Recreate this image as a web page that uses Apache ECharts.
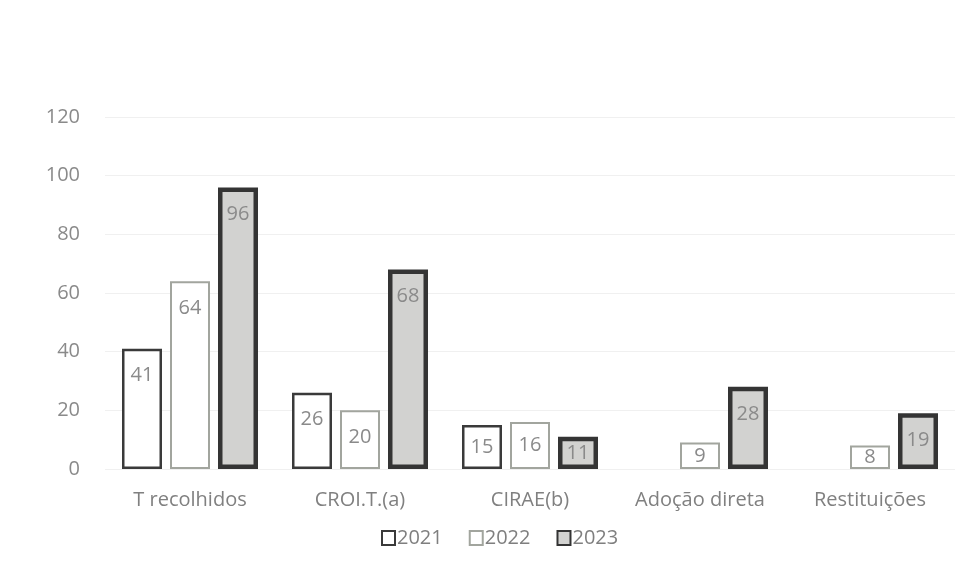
<!DOCTYPE html>
<html><head><meta charset="utf-8">
<script src="https://cdn.jsdelivr.net/npm/echarts@6/dist/echarts.min.js"></script>
<style>html,body{margin:0;padding:0;background:#fff}#c{width:961px;height:571px}</style>
</head><body><div id="c"></div>
<script>
const categories = ['T recolhidos', 'CROI.T.(a)', 'CIRAE(b)', 'Adoção direta', 'Restituições'];
const yearLabels = ['2021', '2022', '2023'];
const values2021 = [41, 26, 15, null, null];
const values2022 = [64, 20, 16, 9, 8];
const values2023 = [96, 68, 11, 28, 19];
const yTicks = [0, 20, 40, 60, 80, 100, 120];

const gridTop = 117, gridBottom = 571 - 469;
const pxPerUnit = (469 - 117) / 120;
function mk(vals) {
  return vals.map(v => v == null ? null : {
    value: v,
    label: { distance: Math.max(0, Math.min(17, v * pxPerUnit / 2 - 10)) }
  });
}
const font = '"Open Sans", sans-serif';
const styles = [
  { color: '#ffffff', borderColor: '#3a3a3a', borderWidth: 2.5 },
  { color: '#ffffff', borderColor: '#a2a59e', borderWidth: 2 },
  { color: '#d2d2d0', borderColor: '#343434', borderWidth: 4.5 }
];
const chart = echarts.init(document.getElementById('c'));
chart.setOption({
  animation: false,
  textStyle: { fontFamily: font },
  grid: { left: 105, right: 6, top: gridTop, bottom: gridBottom, containLabel: false },
  legend: {
    data: yearLabels, bottom: 18, left: 376, icon: 'rect',
    itemWidth: 13, itemHeight: 14, itemGap: 26,
    textStyle: { color: '#7f7f7f', fontSize: 20, fontFamily: font, padding: [0,0,0,-3] }
  },
  xAxis: {
    type: 'category', data: categories,
    axisLine: { show: false }, axisTick: { show: false },
    axisLabel: { color: '#808080', fontSize: 20, margin: 21, fontFamily: font }
  },
  yAxis: {
    type: 'value', min: 0, max: 120, interval: 20,
    axisLine: { show: false }, axisTick: { show: false },
    axisLabel: { color: '#8a8a8a', fontSize: 20, margin: 25, fontFamily: font,
      formatter: v => yTicks.includes(v) ? String(v) : '' },
    splitLine: { lineStyle: { color: '#f0f0f0', width: 1 } }
  },
  series: [values2021, values2022, values2023].map((vals, i) => ({
    name: yearLabels[i], type: 'bar', data: mk(vals),
    barGap: '20%', barCategoryGap: '20%',
    itemStyle: styles[i],
    label: { show: true, position: 'insideTop', color: '#8a8a8a', fontSize: 20, fontFamily: font }
  }))
});
</script></body></html>
